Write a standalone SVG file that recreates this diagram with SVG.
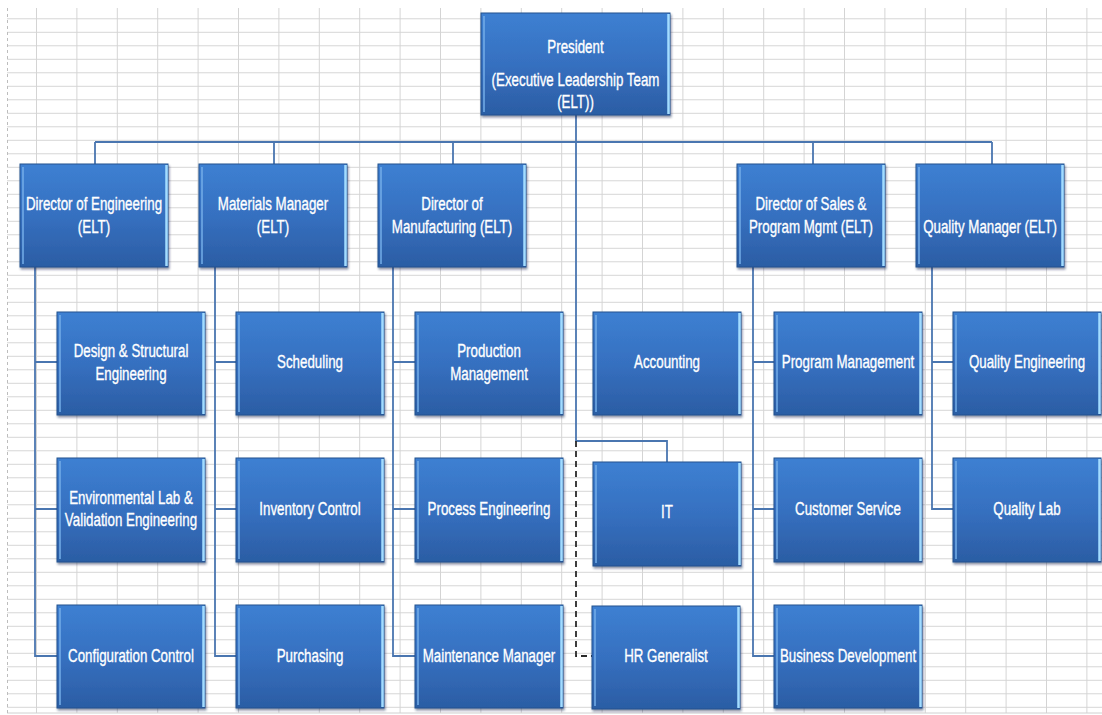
<svg xmlns="http://www.w3.org/2000/svg" width="1102" height="715" viewBox="0 0 1102 715">
<defs>
<pattern id="grid" patternUnits="userSpaceOnUse" x="36" y="18.3" width="40.4" height="13.5">
<path d="M0 0.5H40.4M0.5 0V13.5" stroke="#d4d4d4" stroke-width="1" fill="none"/>
</pattern>
<linearGradient id="bg" x1="0" y1="0" x2="0" y2="1">
<stop offset="0" stop-color="#3d80d2"/>
<stop offset="0.5" stop-color="#3670c0"/>
<stop offset="1" stop-color="#2b5da4"/>
</linearGradient>
<filter id="sh" x="-10%" y="-10%" width="125%" height="125%">
<feDropShadow dx="1" dy="2" stdDeviation="1.2" flood-color="#0a2448" flood-opacity="0.5"/>
</filter>
<style>
.box{fill:url(#bg);stroke:#24538f;stroke-width:1;filter:url(#sh)}
.hl{stroke:#74aee9;stroke-width:1.5}
.hr{stroke:#a3dcff;stroke-width:2.5}
.t{font-family:"Liberation Sans",Arial,sans-serif;font-size:18px;fill:#ffffff;stroke:#ffffff;stroke-width:0.35;text-anchor:middle}
.c{stroke:#4a76b0;stroke-width:1.8;fill:none}
.d{stroke:#2a2a2a;stroke-width:1.8;stroke-dasharray:6 4;fill:none}
</style>
</defs>
<rect x="0" y="0" width="1102" height="715" fill="#ffffff"/>
<rect x="7" y="8" width="1095" height="705" fill="url(#grid)"/>
<line x1="7" y1="713" x2="1102" y2="713" stroke="#d0d0d0" stroke-width="1"/>
<line x1="7.5" y1="8" x2="7.5" y2="713" stroke="#bdbdbd" stroke-width="1" stroke-dasharray="3 3"/>

<g id="connectors">
<path class="c" d="M576 115V441H667V462"/>
<path class="c" d="M95 142H992M95 142V164M274 142V164M453 142V164M813 142V164M992 142V164"/>
<path class="c" d="M35 267V656H57M35 362H57M35 509H57"/>
<path class="c" d="M215 267V656H236M215 362H236M215 509H236"/>
<path class="c" d="M393 267V656H415M393 362H415M393 509H415"/>
<path class="c" d="M753 267V656H774M753 362H774M753 509H774"/>
<path class="c" d="M932 267V509H953M932 362H953"/>
<path class="d" d="M576 441V656H592"/>
</g>

<g id="president">
<rect class="box" x="481" y="13" width="189" height="102"/>
<line class="hl" x1="484" y1="16" x2="484" y2="112"/><line class="hr" x1="668.5" y1="14" x2="668.5" y2="114"/>
<text class="t" transform="translate(575.5,53) scale(0.74,1)">President</text>
<text class="t" transform="translate(575.5,86) scale(0.74,1)">(Executive Leadership Team</text>
<text class="t" transform="translate(575.5,108) scale(0.74,1)">(ELT))</text>
</g>

<g id="dir_eng">
<rect class="box" x="20" y="164" width="148" height="103"/>
<line class="hl" x1="23" y1="167" x2="23" y2="264"/><line class="hr" x1="166.5" y1="165" x2="166.5" y2="266"/>
<text class="t" transform="translate(94,210) scale(0.74,1)">Director of Engineering</text>
<text class="t" transform="translate(94,233) scale(0.74,1)">(ELT)</text>
</g>
<g id="mat_mgr">
<rect class="box" x="199" y="164" width="148" height="103"/>
<line class="hl" x1="202" y1="167" x2="202" y2="264"/><line class="hr" x1="345.5" y1="165" x2="345.5" y2="266"/>
<text class="t" transform="translate(273,210) scale(0.74,1)">Materials Manager</text>
<text class="t" transform="translate(273,233) scale(0.74,1)">(ELT)</text>
</g>
<g id="dir_mfg">
<rect class="box" x="378" y="164" width="148" height="103"/>
<line class="hl" x1="381" y1="167" x2="381" y2="264"/><line class="hr" x1="524.5" y1="165" x2="524.5" y2="266"/>
<text class="t" transform="translate(452,210) scale(0.74,1)">Director of</text>
<text class="t" transform="translate(452,233) scale(0.74,1)">Manufacturing (ELT)</text>
</g>
<g id="dir_sales">
<rect class="box" x="737" y="164" width="148" height="103"/>
<line class="hl" x1="740" y1="167" x2="740" y2="264"/><line class="hr" x1="883.5" y1="165" x2="883.5" y2="266"/>
<text class="t" transform="translate(811,210) scale(0.74,1)">Director of Sales &amp;</text>
<text class="t" transform="translate(811,233) scale(0.74,1)">Program Mgmt (ELT)</text>
</g>
<g id="qual_mgr">
<rect class="box" x="916" y="164" width="148" height="103"/>
<line class="hl" x1="919" y1="167" x2="919" y2="264"/><line class="hr" x1="1062.5" y1="165" x2="1062.5" y2="266"/>
<text class="t" transform="translate(990,233) scale(0.74,1)">Quality Manager (ELT)</text>
</g>

<g id="design">
<rect class="box" x="57" y="312" width="148" height="103"/>
<line class="hl" x1="60" y1="315" x2="60" y2="412"/><line class="hr" x1="203.5" y1="313" x2="203.5" y2="414"/>
<text class="t" transform="translate(131,357) scale(0.74,1)">Design &amp; Structural</text>
<text class="t" transform="translate(131,380) scale(0.74,1)">Engineering</text>
</g>
<g id="scheduling">
<rect class="box" x="236" y="312" width="148" height="103"/>
<line class="hl" x1="239" y1="315" x2="239" y2="412"/><line class="hr" x1="382.5" y1="313" x2="382.5" y2="414"/>
<text class="t" transform="translate(310,368) scale(0.74,1)">Scheduling</text>
</g>
<g id="production">
<rect class="box" x="415" y="312" width="148" height="103"/>
<line class="hl" x1="418" y1="315" x2="418" y2="412"/><line class="hr" x1="561.5" y1="313" x2="561.5" y2="414"/>
<text class="t" transform="translate(489,357) scale(0.74,1)">Production</text>
<text class="t" transform="translate(489,380) scale(0.74,1)">Management</text>
</g>
<g id="accounting">
<rect class="box" x="593" y="312" width="148" height="103"/>
<line class="hl" x1="596" y1="315" x2="596" y2="412"/><line class="hr" x1="739.5" y1="313" x2="739.5" y2="414"/>
<text class="t" transform="translate(667,368) scale(0.74,1)">Accounting</text>
</g>
<g id="program">
<rect class="box" x="774" y="312" width="148" height="103"/>
<line class="hl" x1="777" y1="315" x2="777" y2="412"/><line class="hr" x1="920.5" y1="313" x2="920.5" y2="414"/>
<text class="t" transform="translate(848,368) scale(0.74,1)">Program Management</text>
</g>
<g id="qual_eng">
<rect class="box" x="953" y="312" width="148" height="103"/>
<line class="hl" x1="956" y1="315" x2="956" y2="412"/><line class="hr" x1="1099.5" y1="313" x2="1099.5" y2="414"/>
<text class="t" transform="translate(1027,368) scale(0.74,1)">Quality Engineering</text>
</g>

<g id="env_lab">
<rect class="box" x="57" y="458" width="148" height="104"/>
<line class="hl" x1="60" y1="461" x2="60" y2="559"/><line class="hr" x1="203.5" y1="459" x2="203.5" y2="561"/>
<text class="t" transform="translate(131,504) scale(0.74,1)">Environmental Lab &amp;</text>
<text class="t" transform="translate(131,526) scale(0.74,1)">Validation Engineering</text>
</g>
<g id="inventory">
<rect class="box" x="236" y="458" width="148" height="104"/>
<line class="hl" x1="239" y1="461" x2="239" y2="559"/><line class="hr" x1="382.5" y1="459" x2="382.5" y2="561"/>
<text class="t" transform="translate(310,515) scale(0.74,1)">Inventory Control</text>
</g>
<g id="process">
<rect class="box" x="415" y="458" width="148" height="104"/>
<line class="hl" x1="418" y1="461" x2="418" y2="559"/><line class="hr" x1="561.5" y1="459" x2="561.5" y2="561"/>
<text class="t" transform="translate(489,515) scale(0.74,1)">Process Engineering</text>
</g>
<g id="it">
<rect class="box" x="593" y="462" width="148" height="104"/>
<line class="hl" x1="596" y1="465" x2="596" y2="563"/><line class="hr" x1="739.5" y1="463" x2="739.5" y2="565"/>
<text class="t" transform="translate(667,518) scale(0.74,1)">IT</text>
</g>
<g id="customer">
<rect class="box" x="774" y="458" width="148" height="104"/>
<line class="hl" x1="777" y1="461" x2="777" y2="559"/><line class="hr" x1="920.5" y1="459" x2="920.5" y2="561"/>
<text class="t" transform="translate(848,515) scale(0.74,1)">Customer Service</text>
</g>
<g id="qual_lab">
<rect class="box" x="953" y="458" width="148" height="104"/>
<line class="hl" x1="956" y1="461" x2="956" y2="559"/><line class="hr" x1="1099.5" y1="459" x2="1099.5" y2="561"/>
<text class="t" transform="translate(1027,515) scale(0.74,1)">Quality Lab</text>
</g>

<g id="config">
<rect class="box" x="57" y="605" width="148" height="103"/>
<line class="hl" x1="60" y1="608" x2="60" y2="705"/><line class="hr" x1="203.5" y1="606" x2="203.5" y2="707"/>
<text class="t" transform="translate(131,662) scale(0.74,1)">Configuration Control</text>
</g>
<g id="purchasing">
<rect class="box" x="236" y="605" width="148" height="103"/>
<line class="hl" x1="239" y1="608" x2="239" y2="705"/><line class="hr" x1="382.5" y1="606" x2="382.5" y2="707"/>
<text class="t" transform="translate(310,662) scale(0.74,1)">Purchasing</text>
</g>
<g id="maintenance">
<rect class="box" x="415" y="605" width="148" height="103"/>
<line class="hl" x1="418" y1="608" x2="418" y2="705"/><line class="hr" x1="561.5" y1="606" x2="561.5" y2="707"/>
<text class="t" transform="translate(489,662) scale(0.74,1)">Maintenance Manager</text>
</g>
<g id="hr">
<rect class="box" x="592" y="606" width="148" height="103"/>
<line class="hl" x1="595" y1="609" x2="595" y2="706"/><line class="hr" x1="738.5" y1="607" x2="738.5" y2="708"/>
<text class="t" transform="translate(666,662) scale(0.74,1)">HR Generalist</text>
</g>
<g id="bizdev">
<rect class="box" x="774" y="605" width="148" height="103"/>
<line class="hl" x1="777" y1="608" x2="777" y2="705"/><line class="hr" x1="920.5" y1="606" x2="920.5" y2="707"/>
<text class="t" transform="translate(848,662) scale(0.74,1)">Business Development</text>
</g>
</svg>
